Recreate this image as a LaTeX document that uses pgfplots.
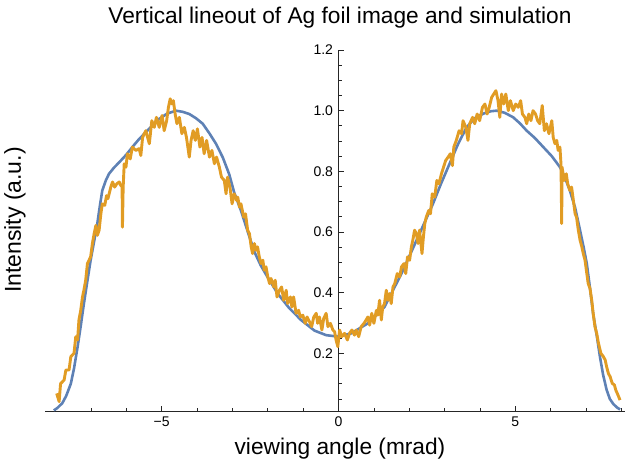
\documentclass[border=0pt]{standalone}
\usepackage{pgfplots}
\pgfplotsset{compat=1.18}
\usepackage{fontspec}
\setmainfont{Liberation Sans}
\definecolor{mblue}{rgb}{0.368417,0.506779,0.709798}
\definecolor{morange}{rgb}{0.880722,0.611041,0.142051}
\begin{document}
\begin{tikzpicture}
\useasboundingbox (-45bp,-50bp) rectangle (585bp,411bp);
\begin{axis}[
  scale only axis, width=580bp, height=361bp,
  at={(0,0)}, anchor=south west,
  xmin=-8.3, xmax=8.1, ymin=0.01, ymax=1.2,
  axis x line=bottom, axis y line=middle,
  axis line style={-, line width=0.8bp, black!85},
  tick style={line width=0.7bp, black!85},
  xtick={-5,0,5}, xticklabels={−5,0,5},
  minor xtick={-8,-7,-6,-4,-3,-2,-1,1,2,3,4,6,7,8},
  ytick={0.2,0.4,0.6,0.8,1.0,1.2}, yticklabels={0.2,0.4,0.6,0.8,1.0,1.2},
  minor ytick={0.05,0.1,0.15,0.25,0.3,0.35,0.45,0.5,0.55,0.65,0.7,0.75,0.85,0.9,0.95,1.05,1.1,1.15},
  xtick align=inside, ytick align=inside,
  major tick length=5bp, minor tick length=3bp,
  xticklabel style={font=\fontsize{14bp}{16bp}\selectfont, yshift=-2bp},
  yticklabel style={font=\fontsize{14bp}{16bp}\selectfont, xshift=-2bp},
  title={Vertical lineout of Ag foil image and simulation},
  title style={at={(axis description cs:0.5086,1.072)}, anchor=center, font=\fontsize{22.7bp}{26bp}\selectfont},
  xlabel={viewing angle (mrad)},
  xlabel style={at={(axis description cs:0.5086,-0.105)}, anchor=center, font=\fontsize{22.7bp}{26bp}\selectfont},
  ylabel={Intensity (a.u.)},
  ylabel style={at={(axis description cs:-0.0517,0.529)}, anchor=center, rotate=90, font=\fontsize{23bp}{26bp}\selectfont},
  clip=false,
]
\addplot[mblue, line width=2.6bp, line join=round] coordinates {
(-8.05,0.012) (-7.95,0.02) (-7.81,0.036) (-7.70,0.06) (-7.57,0.10) (-7.48,0.15) (-7.38,0.22) (-7.29,0.29) (-7.20,0.364) (-7.10,0.44) (-7.01,0.507) (-6.91,0.57) (-6.82,0.628) (-6.75,0.685) (-6.68,0.737) (-6.58,0.77) (-6.49,0.792) (-6.35,0.812) (-6.20,0.83) (-6.00,0.855) (-5.83,0.88) (-5.65,0.905) (-5.45,0.929) (-5.25,0.953) (-5.07,0.973) (-4.85,0.99) (-4.60,1.0) (-4.40,0.996) (-4.22,0.989) (-4.03,0.975) (-3.84,0.957) (-3.65,0.925) (-3.46,0.89) (-3.27,0.845) (-3.09,0.79) (-2.95,0.73) (-2.76,0.671) (-2.55,0.595) (-2.38,0.535) (-2.2,0.49) (-2.0,0.45) (-1.72,0.397) (-1.4,0.35) (-1.06,0.31) (-0.68,0.275) (-0.35,0.26) (0,0.255) (0.36,0.266) (0.83,0.299) (1.30,0.353) (1.78,0.463) (2.25,0.584) (2.67,0.693) (2.9,0.76) (3.14,0.825) (3.38,0.89) (3.62,0.945) (3.85,0.975) (4.09,0.99) (4.3,0.998) (4.47,1.0) (4.7,0.993) (4.94,0.978) (5.13,0.958) (5.32,0.934) (5.55,0.91) (5.79,0.88) (6.03,0.85) (6.26,0.814) (6.40,0.78) (6.54,0.737) (6.69,0.68) (6.83,0.605) (6.93,0.55) (7.02,0.496) (7.11,0.415) (7.20,0.33) (7.30,0.26) (7.39,0.19) (7.48,0.13) (7.58,0.08) (7.67,0.05) (7.77,0.033) (7.87,0.022) (7.96,0.015)
};
\addplot[morange, line width=2.9bp, line join=round] coordinates {
(-7.97,0.068) (-7.90,0.041) (-7.86,0.10) (-7.76,0.112) (-7.71,0.145) (-7.62,0.145) (-7.57,0.189) (-7.48,0.20) (-7.43,0.255) (-7.38,0.244) (-7.34,0.31) (-7.29,0.342) (-7.24,0.386) (-7.20,0.408) (-7.15,0.441) (-7.10,0.496) (-7.01,0.518) (-6.96,0.562) (-6.91,0.595) (-6.86,0.622) (-6.82,0.589) (-6.77,0.606) (-6.72,0.66) (-6.68,0.693) (-6.61,0.688) (-6.56,0.72) (-6.52,0.71) (-6.44,0.748) (-6.39,0.765) (-6.33,0.748) (-6.27,0.759) (-6.20,0.765) (-6.16,0.754) (-6.12,0.75) (-6.11,0.616) (-6.09,0.748) (-6.06,0.825) (-6.01,0.814) (-5.97,0.858) (-5.89,0.841) (-5.83,0.88) (-5.73,0.869) (-5.64,0.875) (-5.59,0.852) (-5.54,0.912) (-5.45,0.934) (-5.35,0.891) (-5.28,0.967) (-5.21,0.945) (-5.15,0.978) (-5.07,0.945) (-4.99,0.984) (-4.93,0.934) (-4.86,0.967) (-4.81,1.011) (-4.76,1.039) (-4.71,1.022) (-4.67,1.033) (-4.62,0.989) (-4.57,0.957) (-4.50,0.978) (-4.43,0.924) (-4.36,0.945) (-4.30,0.912) (-4.22,0.847) (-4.17,0.902) (-4.11,0.934) (-4.05,0.902) (-3.99,0.94) (-3.92,0.88) (-3.86,0.912) (-3.80,0.858) (-3.73,0.902) (-3.65,0.847) (-3.58,0.869) (-3.51,0.825) (-3.45,0.847) (-3.37,0.814) (-3.31,0.781) (-3.23,0.77) (-3.18,0.726) (-3.14,0.781) (-3.07,0.748) (-3.01,0.693) (-2.95,0.726) (-2.88,0.704) (-2.85,0.715) (-2.80,0.682) (-2.76,0.693) (-2.68,0.649) (-2.63,0.66) (-2.57,0.606) (-2.52,0.595) (-2.47,0.551) (-2.43,0.529) (-2.38,0.562) (-2.33,0.540) (-2.29,0.551) (-2.24,0.518) (-2.19,0.496) (-2.14,0.507) (-2.10,0.474) (-2.05,0.485) (-2.00,0.452) (-1.95,0.43) (-1.91,0.447) (-1.83,0.419) (-1.79,0.441) (-1.74,0.386) (-1.67,0.408) (-1.61,0.419) (-1.55,0.375) (-1.48,0.408) (-1.44,0.364) (-1.36,0.386) (-1.32,0.353) (-1.27,0.386) (-1.20,0.332) (-1.13,0.342) (-1.08,0.320) (-1.01,0.326) (-0.94,0.299) (-0.89,0.320) (-0.82,0.304) (-0.76,0.288) (-0.70,0.320) (-0.63,0.332) (-0.59,0.299) (-0.54,0.320) (-0.47,0.277) (-0.42,0.315) (-0.35,0.332) (-0.30,0.288) (-0.23,0.299) (-0.16,0.277) (-0.11,0.271) (-0.07,0.244) (-0.02,0.222) (0.03,0.277) (0.09,0.255) (0.17,0.266) (0.25,0.244) (0.31,0.266) (0.38,0.277) (0.45,0.26) (0.50,0.277) (0.57,0.255) (0.64,0.288) (0.72,0.299) (0.78,0.31) (0.83,0.320) (0.88,0.293) (0.94,0.332) (1.00,0.299) (1.07,0.342) (1.11,0.326) (1.16,0.375) (1.21,0.31) (1.25,0.353) (1.30,0.364) (1.35,0.408) (1.40,0.375) (1.44,0.397) (1.49,0.364) (1.54,0.419) (1.59,0.43) (1.66,0.463) (1.73,0.452) (1.78,0.485) (1.85,0.496) (1.90,0.463) (1.95,0.518) (2.01,0.507) (2.06,0.551) (2.10,0.573) (2.15,0.606) (2.20,0.595) (2.25,0.562) (2.29,0.606) (2.36,0.529) (2.40,0.584) (2.44,0.628) (2.48,0.649) (2.55,0.671) (2.60,0.66) (2.65,0.726) (2.72,0.715) (2.78,0.77) (2.84,0.759) (2.91,0.792) (2.97,0.814) (3.03,0.836) (3.10,0.847) (3.16,0.858) (3.22,0.819) (3.26,0.88) (3.33,0.902) (3.41,0.934) (3.48,0.924) (3.52,0.967) (3.60,0.945) (3.66,0.902) (3.71,0.957) (3.79,0.978) (3.85,0.957) (3.92,0.989) (3.99,0.967) (4.07,1.011) (4.14,1.022) (4.20,0.989) (4.26,1.011) (4.33,1.044) (4.39,1.055) (4.45,1.066) (4.51,1.033) (4.56,0.978) (4.61,1.055) (4.67,1.022) (4.73,1.055) (4.80,1.0) (4.86,1.033) (4.94,1.0) (5.01,1.022) (5.08,1.011) (5.15,1.033) (5.20,0.989) (5.27,0.978) (5.32,0.957) (5.38,0.989) (5.44,0.967) (5.50,1.0) (5.57,0.989) (5.63,0.967) (5.69,0.957) (5.76,1.017) (5.82,0.934) (5.88,0.957) (5.95,0.924) (6.03,0.967) (6.07,0.912) (6.12,0.891) (6.17,0.902) (6.21,0.869) (6.26,0.88) (6.29,0.825) (6.31,0.628) (6.32,0.814) (6.38,0.77) (6.44,0.792) (6.48,0.759) (6.54,0.737) (6.59,0.748) (6.64,0.704) (6.69,0.66) (6.73,0.649) (6.78,0.606) (6.83,0.573) (6.88,0.551) (6.92,0.529) (6.97,0.507) (7.02,0.463) (7.06,0.43) (7.11,0.414) (7.16,0.375) (7.20,0.332) (7.25,0.288) (7.30,0.266) (7.35,0.233) (7.42,0.2) (7.49,0.189) (7.54,0.178) (7.58,0.156) (7.63,0.134) (7.68,0.123) (7.74,0.101) (7.80,0.096) (7.84,0.079) (7.90,0.063) (7.96,0.046)
};
\end{axis}
\end{tikzpicture}
\end{document}
